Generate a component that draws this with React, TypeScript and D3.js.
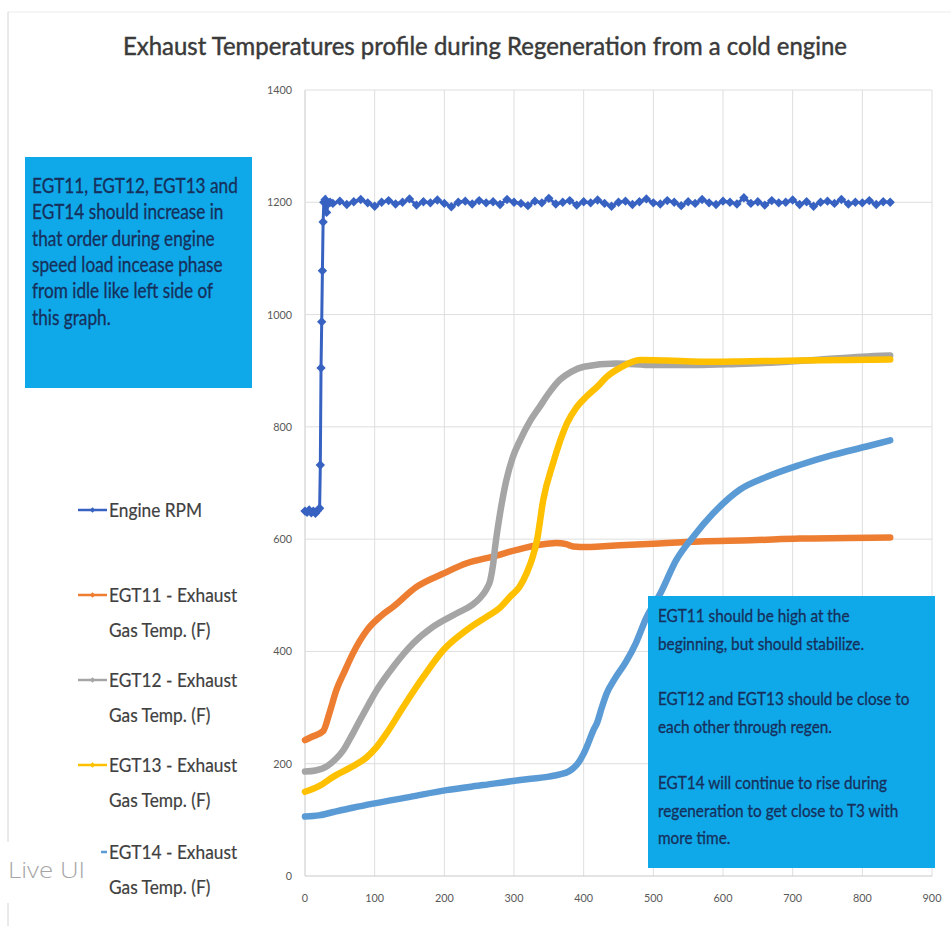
import React from 'react';
import * as d3 from 'd3';

// ---- data ----
const xTicks = [0, 100, 200, 300, 400, 500, 600, 700, 800, 900];
const yTicks = [0, 200, 400, 600, 800, 1000, 1200, 1400];

// Engine RPM: idle, ramp, then noisy 1200 plateau
const rpmStart: [number, number][] = [
  [0, 650], [3, 648], [6, 652], [9, 647], [12, 650], [15, 646], [18, 651], [21, 655],
  [22, 732], [23, 905], [24, 987], [25, 1078], [26, 1165], [27, 1200], [29, 1205],
  [31, 1182], [33, 1197], [36, 1200],
];
const rpmPlateauTimes = d3.range(40, 850, 10);
const rpmPlateau = [
  1198, 1202, 1196, 1201, 1205, 1199, 1193, 1200, 1203, 1197,
  1200, 1206, 1195, 1201, 1199, 1204, 1198, 1192, 1200, 1202,
  1197, 1203, 1199, 1201, 1196, 1205, 1200, 1198, 1194, 1202,
  1199, 1207, 1197, 1200, 1203, 1195, 1201, 1199, 1204, 1198,
  1193, 1200, 1202, 1196, 1201, 1206, 1199, 1197, 1203, 1200,
  1194, 1201, 1198, 1205, 1199, 1196, 1202, 1200, 1197, 1208,
  1198, 1201, 1195, 1203, 1199, 1200, 1204, 1196, 1201, 1193,
  1200, 1202, 1198, 1205, 1197, 1200, 1199, 1203, 1196, 1201,
  1200,
];

const egt11: [number, number][] = [
  [0, 242], [10, 248], [26, 258], [35, 290], [45, 331], [57, 365], [69, 397], [89, 438],
  [108, 462], [127, 480], [160, 515], [199, 539], [232, 557], [270, 569], [304, 581],
  [337, 590], [361, 593], [375, 591], [385, 587], [405, 586], [423, 587], [452, 589],
  [500, 592], [567, 596], [640, 598], [710, 601], [780, 602], [840, 603],
];
const egt12: [number, number][] = [
  [0, 186], [15, 188], [31, 195], [43, 207], [55, 224], [67, 250], [79, 278], [91, 305],
  [103, 331], [127, 373], [155, 414], [184, 444], [218, 468], [240, 483], [251, 495],
  [260, 510], [266, 527], [270, 555], [273, 587], [280, 646], [289, 705], [298, 745],
  [309, 777], [322, 808], [337, 836], [350, 860], [366, 884], [382, 898], [400, 907],
  [447, 913], [500, 910], [560, 910], [620, 912], [680, 915], [740, 920], [800, 925],
  [840, 927],
];
const egt13: [number, number][] = [
  [0, 150], [20, 160], [41, 177], [65, 193], [89, 212], [103, 230], [117, 254], [141, 301],
  [170, 355], [199, 403], [232, 438], [261, 462], [280, 478], [294, 497], [308, 515],
  [318, 539], [326, 565], [333, 598], [342, 670], [356, 735], [376, 806], [390, 835],
  [404, 854], [420, 872], [433, 889], [452, 905], [481, 919], [520, 918], [567, 916],
  [640, 917], [710, 918], [780, 919], [840, 920],
];
const egt14: [number, number][] = [
  [0, 106], [20, 108], [41, 114], [70, 122], [98, 129], [151, 141], [203, 153], [256, 162],
  [309, 171], [350, 177], [366, 181], [378, 186], [385, 192], [393, 203], [400, 218],
  [407, 238], [414, 260], [419, 272], [426, 300], [433, 325], [445, 352], [460, 380],
  [475, 415], [490, 460], [510, 503], [533, 563], [557, 604], [586, 646], [624, 688],
  [663, 711], [710, 732], [758, 750], [806, 765], [840, 776],
];

const seriesNames = [
  ['Engine RPM'],
  ['EGT11 - Exhaust', 'Gas Temp. (F)'],
  ['EGT12 - Exhaust', 'Gas Temp. (F)'],
  ['EGT13 - Exhaust', 'Gas Temp. (F)'],
  ['EGT14 - Exhaust', 'Gas Temp. (F)'],
];
const seriesColors = ['#3762c2', '#ed7d31', '#a5a5a5', '#ffc000', '#5b9bd5'];

const leftNote = [
  'EGT11, EGT12, EGT13 and',
  'EGT14 should increase in',
  'that order during engine',
  'speed load incease phase',
  'from idle like left side of',
  'this graph.',
];
const rightNote = [
  'EGT11 should be high at the',
  'beginning, but should stabilize.',
  '',
  'EGT12 and EGT13 should be close to',
  'each other  through  regen.',
  '',
  'EGT14 will continue to rise during',
  'regeneration to get close to T3 with',
  'more  time.',
];

const FONT = 'Lato, "Open Sans", sans-serif';
const NOTE_FILL = '#0fa8e9';
const NOTE_TEXT = '#16305c';

export default function App() {
  const W = 951;
  const H = 926;
  const x = d3.scaleLinear().domain([0, 900]).range([305, 932]);
  const y = d3.scaleLinear().domain([0, 1400]).range([876, 90]);

  const rpm: [number, number][] = rpmStart.concat(
    rpmPlateauTimes.slice(0, rpmPlateau.length).map((t, i) => [t, rpmPlateau[i]] as [number, number])
  );

  const line = d3.line<[number, number]>()
    .x(d => x(d[0]))
    .y(d => y(d[1]))
    .curve(d3.curveMonotoneX);
  const rpmLine = d3.line<[number, number]>()
    .x(d => x(d[0]))
    .y(d => y(d[1]));
  // excel style diamond = square rotated 45deg
  const marker = d3.symbol().type(d3.symbolSquare).size(44)() as string;
  const legendMarker = d3.symbol().type(d3.symbolSquare).size(16)() as string;

  const temps = [egt11, egt12, egt13, egt14];
  const legendY = [510, 595, 680, 765, 852];

  return (
    <svg width={W} height={H} style={{ position: 'absolute', left: 0, top: 0, background: '#fff' }}
      fontFamily={FONT}>
      {/* faint frame */}
      <line x1={8} x2={W} y1={12} y2={12} stroke="#ececec" />
      <line x1={8} x2={8} y1={12} y2={H} stroke="#d4d4d4" />

      {/* title */}
      <text x={123} y={55} fontSize={25} fill="#3a3a3a" stroke="#3a3a3a" strokeWidth={0.45}
        textLength={724} lengthAdjust="spacingAndGlyphs">
        Exhaust Temperatures profile during Regeneration from a cold engine
      </text>

      {/* grid */}
      {xTicks.map(t => (
        <line key={'gx' + t} x1={x(t)} x2={x(t)} y1={y(1400)} y2={y(0)}
          stroke={t === 0 ? '#c8c8c8' : '#dedede'} strokeWidth={1} />
      ))}
      {yTicks.map(t => (
        <line key={'gy' + t} x1={x(0)} x2={x(900)} y1={y(t)} y2={y(t)}
          stroke={t === 0 ? '#c8c8c8' : '#dedede'} strokeWidth={1} />
      ))}

      {/* tick labels */}
      {yTicks.map(t => (
        <text key={'ty' + t} transform={`translate(292,${y(t) + 4}) scale(0.9,1)`} textAnchor="end"
          fontSize={12} fill="#595959">{t}</text>
      ))}
      {xTicks.map(t => (
        <text key={'tx' + t} transform={`translate(${x(t)},902) scale(0.9,1)`} textAnchor="middle"
          fontSize={12} fill="#595959">{t}</text>
      ))}

      {/* Engine RPM */}
      <path d={rpmLine(rpm) || ''} fill="none" stroke={seriesColors[0]} strokeWidth={3} />
      {rpm.map((d, i) => (
        <path key={'m' + i} d={marker} transform={`translate(${x(d[0])},${y(d[1])}) rotate(45)`}
          fill={seriesColors[0]} />
      ))}

      {/* temperatures */}
      {temps.map((s, i) => (
        <path key={'s' + i} d={line(s) || ''} fill="none" stroke={seriesColors[i + 1]}
          strokeWidth={6.5} strokeLinecap="round" strokeLinejoin="round" />
      ))}

      {/* left note */}
      <rect x={25} y={157} width={227} height={231} fill={NOTE_FILL} />
      {leftNote.map((l, i) => (
        <text key={'ln' + i} transform={`translate(32,${193 + i * 26.3}) scale(0.84,1)`}
          fontSize={20.5} fill={NOTE_TEXT} stroke={NOTE_TEXT} strokeWidth={0.3}>{l}</text>
      ))}

      {/* right note */}
      <rect x={648} y={596} width={287} height={272} fill={NOTE_FILL} />
      {rightNote.map((l, i) => (
        <text key={'rn' + i} transform={`translate(658,${622 + i * 27.8}) scale(0.93,1)`}
          fontSize={16.5} fill={NOTE_TEXT} stroke={NOTE_TEXT} strokeWidth={0.3}>{l}</text>
      ))}

      {/* legend */}
      {seriesNames.map((lines, i) => (
        <g key={'lg' + i}>
          <line x1={78} x2={107} y1={legendY[i]} y2={legendY[i]} stroke={seriesColors[i]} strokeWidth={2.5} />
          <path d={legendMarker} transform={`translate(92.5,${legendY[i]}) rotate(45)`} fill={seriesColors[i]} />
          {lines.map((t, j) => (
            <text key={j} transform={`translate(109,${legendY[i] + 7 + j * 35}) scale(0.866,1)`}
              fontSize={20} fill="#404040" stroke="#404040" strokeWidth={0.2}>{t}</text>
          ))}
        </g>
      ))}

      {/* "Live UI" overlay label */}
      <rect x={0} y={842} width={101} height={61} fill="#fff" />
      <text x={8} y={878} fontSize={22} fill="#a6a6a6" fontWeight={300}
        fontFamily='"Open Sans", sans-serif' textLength={77} lengthAdjust="spacingAndGlyphs">Live UI</text>
    </svg>
  );
}
